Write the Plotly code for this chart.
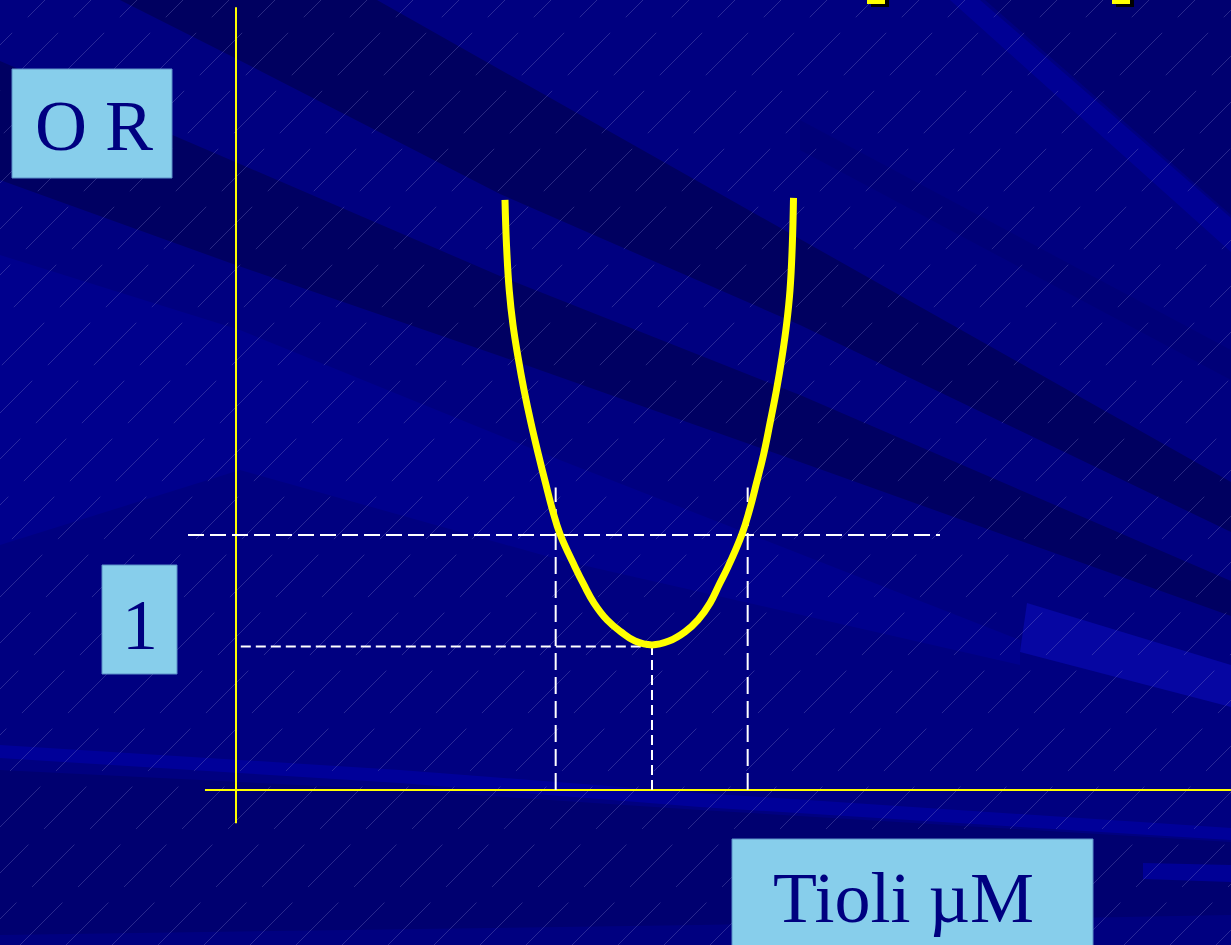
import plotly.graph_objects as go

# ---- data (x: Tioli µM, arbitrary units; y: OR) ----
curve_x = [8.406, 8.453, 8.538, 8.656, 8.813, 9.0, 9.219, 9.453, 9.672, 9.891, 10.125,
           10.594, 10.875, 11.188, 11.594, 12.031, 12.469, 13.0,
           13.531, 14.031, 14.438, 14.813, 15.094, 15.375, 15.813, 16.047, 16.266,
           16.484, 16.688, 16.891, 17.063, 17.203, 17.313, 17.384, 17.422]
curve_y = [2.314, 2.137, 1.961, 1.824, 1.698, 1.569, 1.439, 1.314, 1.204, 1.098, 1.004,
           0.875, 0.804, 0.733, 0.667, 0.620, 0.584, 0.569,
           0.584, 0.620, 0.667, 0.733, 0.804, 0.875, 1.004, 1.098, 1.204,
           1.314, 1.439, 1.569, 1.698, 1.824, 1.961, 2.137, 2.322]
or_ref = 1.0          # OR = 1 reference line
or_min = 0.563        # minimum OR
x_low = 9.99          # left crossing
x_opt = 13.0          # optimum concentration
x_high = 15.99        # right crossing
ref_line_x = [-1.5, 22.0]
min_line_x = [0.15, 13.0]
vline_top = 1.186
axis_x_span = [-0.97, 31.1]
axis_y_span = [-0.13, 3.07]
labels = {"or": "O R", "one": "1", "x": "Tioli µM"}

W, H = 1231, 945
NAVY = "#000080"
YELLOW = "#FFFF00"
BOXC = "#87CEEB"


def P(x, y):
    return x / W, 1 - y / H


def path(points):
    s = ""
    for i, (x, y) in enumerate(points):
        px, py = P(x, y)
        s += ("M" if i == 0 else "L") + f"{px:.5f},{py:.5f} "
    return s + "Z"


fig = go.Figure()

# yellow axes
fig.add_trace(go.Scatter(x=[0, 0], y=axis_y_span, mode="lines",
                         line=dict(color=YELLOW, width=2), hoverinfo="skip"))
fig.add_trace(go.Scatter(x=axis_x_span, y=[0, 0], mode="lines",
                         line=dict(color=YELLOW, width=2), hoverinfo="skip"))

# dashed guide lines
fig.add_trace(go.Scatter(x=ref_line_x, y=[or_ref, or_ref], mode="lines",
                         line=dict(color="white", width=2, dash="16px,6px")))
fig.add_trace(go.Scatter(x=min_line_x, y=[or_min, or_min], mode="lines",
                         line=dict(color="white", width=2, dash="10px,5px")))
fig.add_trace(go.Scatter(x=[x_low, x_low], y=[0, vline_top], mode="lines",
                         line=dict(color="white", width=2, dash="17px,7px")))
fig.add_trace(go.Scatter(x=[x_high, x_high], y=[0, vline_top], mode="lines",
                         line=dict(color="white", width=2, dash="17px,7px")))
fig.add_trace(go.Scatter(x=[x_opt, x_opt], y=[0, or_min], mode="lines",
                         line=dict(color="white", width=2, dash="10px,5px")))

# U-shaped curve
fig.add_trace(go.Scatter(x=curve_x, y=curve_y, mode="lines",
                         line=dict(color=YELLOW, width=7, shape="spline", smoothing=1.2)))

shapes = []
# background bands (decoration)
bands = [
    ([(0, 255), (240, 330), (560, 460), (1020, 640), (1020, 665), (560, 560), (240, 470), (0, 545)], "#00008D"),
    ([(120, 0), (377, 0), (800, 239), (1231, 482), (1231, 532), (800, 325), (500, 194), (233, 57)], "#000060"),
    ([(0, 61), (233, 161), (500, 276), (800, 395), (1231, 581), (1231, 616), (800, 462), (500, 356), (233, 264), (0, 180)], "#000062"),
    ([(800, 120), (1231, 350), (1231, 380), (800, 150)], "#000078"),
    ([(985, 0), (1231, 0), (1231, 215)], "#000070"),
    ([(950, 0), (980, 0), (1231, 218), (1231, 252)], "#000094"),
    ([(0, 770), (400, 790), (700, 810), (1231, 842), (1231, 915), (700, 925), (0, 935)], "#000070"),
    ([(0, 745), (400, 770), (700, 793), (1231, 828), (1231, 840), (700, 807), (400, 783), (0, 758)], "#000099"),
    ([(1027, 603), (1231, 665), (1231, 707), (1020, 652)], "#0606A2"),
    ([(1143, 863), (1231, 865), (1231, 882), (1143, 879)], "#000096"),
]
for pts, col in bands:
    shapes.append(dict(type="path", path=path(pts), xref="paper", yref="paper",
                       fillcolor=col, line=dict(width=0), layer="below"))

# faint diagonal hatch lines
hatch = ""
for c in range(-900, W + H + 50, 46):
    a, b = P(c, H)
    d, e = P(c + H, 0)
    hatch += f"M{a:.5f},{b:.5f} L{d:.5f},{e:.5f} "
shapes.append(dict(type="path", path=hatch, xref="paper", yref="paper",
                   line=dict(color="rgba(140,140,210,0.30)", width=1, dash="60px,22px"),
                   layer="below"))

# cut-off title glyph bits at top
for x0, x1 in [(867, 885), (1112, 1130)]:
    a, b = P(x0 + 4, 7)
    c2, d = P(x1 + 4, 0)
    shapes.append(dict(type="rect", xref="paper", yref="paper", x0=a, y0=b, x1=c2, y1=d,
                       fillcolor="black", line=dict(width=0)))
    a, b = P(x0, 4)
    c2, d = P(x1, 0)
    shapes.append(dict(type="rect", xref="paper", yref="paper", x0=a, y0=b, x1=c2, y1=d,
                       fillcolor=YELLOW, line=dict(width=0)))

# label boxes
for (x0, y0, x1, y1) in [(12, 69, 172, 178), (102, 565, 177, 674), (732, 839, 1093, 950)]:
    a, b = P(x0, y1)
    c2, d = P(x1, y0)
    shapes.append(dict(type="rect", xref="paper", yref="paper", x0=a, y0=b, x1=c2, y1=d,
                       fillcolor=BOXC, line=dict(color="#5A8FC8", width=1)))

annotations = []
for txt, cx, cy in [(labels["or"], 94, 126), (labels["one"], 140, 625), (labels["x"], 903, 898)]:
    a, b = P(cx, cy)
    annotations.append(dict(text=txt, x=a, y=b, xref="paper", yref="paper", showarrow=False,
                            xanchor="center", yanchor="middle",
                            font=dict(family="Liberation Serif", size=72, color=NAVY)))

fig.update_layout(
    width=W, height=H, margin=dict(l=0, r=0, t=0, b=0),
    paper_bgcolor=NAVY, plot_bgcolor=NAVY, showlegend=False,
    xaxis=dict(range=[-236 / 32, (W - 236) / 32], visible=False, fixedrange=True),
    yaxis=dict(range=[(790 - H) / 255, 790 / 255], visible=False, fixedrange=True),
    shapes=shapes, annotations=annotations,
)

fig.write_html("out.html", config={"displayModeBar": False},
               post_script="document.body.style.margin='0';")
